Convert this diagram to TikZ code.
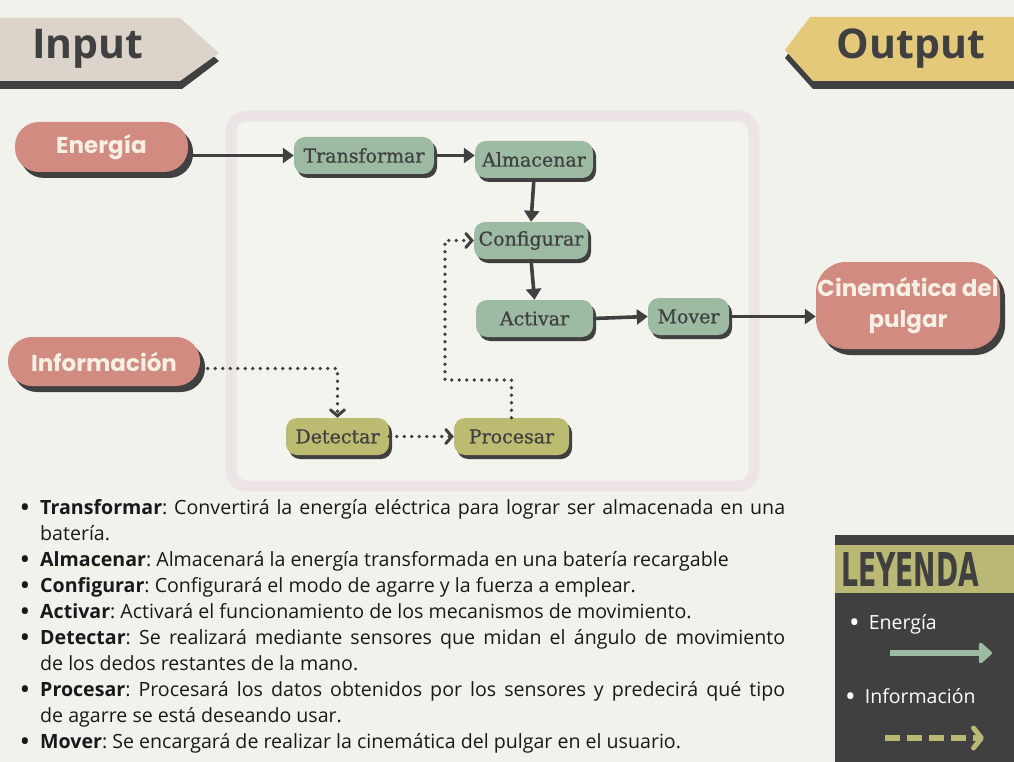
\documentclass[tikz,border=0pt]{standalone}
\usepackage{fontspec}
\setmainfont{Open Sans}
\newfontfamily\bannerfont{Open Sans}
\newfontfamily\pillfont{Poppins}
\newfontfamily\boxfont[FakeBold=0.7]{DejaVu Serif}
\newfontfamily\legfont{DejaVu Sans Condensed}
\usetikzlibrary{arrows.meta,shadows,calc}
\definecolor{bg}{RGB}{242,242,236}
\definecolor{dark}{RGB}{64,64,64}
\definecolor{inbanner}{RGB}{220,212,203}
\definecolor{outbanner}{RGB}{227,201,121}
\definecolor{pillred}{RGB}{209,139,128}
\definecolor{cream}{RGB}{248,240,228}
\definecolor{gnode}{RGB}{157,186,162}
\definecolor{onode}{RGB}{187,187,114}
\definecolor{frame}{RGB}{236,228,229}
\definecolor{legband}{RGB}{185,184,116}
\newcommand{\bigbul}{\raisebox{-0.32ex}{\scalebox{1.45}{\textbullet}}}
\tikzset{
  boxnode/.style={rounded corners=11pt, minimum height=37pt, inner sep=0pt,
    text=dark, font=\boxfont\fontsize{19}{22}\selectfont,
    drop shadow={shadow xshift=3pt,shadow yshift=-4pt,opacity=1,fill=dark}},
  gbox/.style={boxnode, fill=gnode},
  obox/.style={boxnode, fill=onode},
  pill/.style={rounded corners=24pt, fill=pillred, inner sep=0pt, text=cream,
    font=\pillfont\bfseries\fontsize{23}{31}\selectfont, align=center,
    drop shadow={shadow xshift=5pt,shadow yshift=-6pt,opacity=1,fill=dark}},
  solidarrow/.style={draw=dark, line width=3.6pt, -{Triangle[length=11pt,width=15pt]}},
  dotarrow/.style={draw=dark, line width=3.8pt, line cap=round, dash pattern=on 0pt off 7.5pt,
    -{Straight Barb[length=6pt,width=14pt,line width=3pt,line cap=round]}},
  legtext/.style={anchor=base west, text=white, font=\fontsize{19.5}{22}\selectfont, inner sep=0},
}
\begin{document}
\begin{tikzpicture}[x=1pt,y=-1pt]
\useasboundingbox[fill=bg] (0,0) rectangle (1014,762);

% banners
\fill[dark] (0,26) -- (180,26) -- (219,61) -- (182,89) -- (0,89) -- cycle;
\fill[inbanner] (0,18) -- (180,18) -- (219,53) -- (180,81) -- (0,81) -- cycle;
\node[text=dark, font=\bannerfont\bfseries\fontsize{41}{48}\selectfont, inner sep=0] (inp) at (88,49) {Input};
\fill[dark] (1014,25) -- (810,25) -- (785,58) -- (813,89) -- (1014,89) -- cycle;
\fill[outbanner] (1014,17) -- (810,17) -- (785,50) -- (813,81) -- (1014,81) -- cycle;
\node[text=dark, font=\bannerfont\bfseries\fontsize{41}{48}\selectfont, inner sep=0] (outp) at (911,49) {Output};

% frame
\draw[frame, line width=11pt, fill=bg!85!white, rounded corners=16pt] (231,116) rectangle (754,486);

% pills
\node[pill, minimum width=173pt, minimum height=50pt] (E) at (101.5,147) {Energía};
\node[pill, minimum width=192pt, minimum height=49pt] (I) at (104,361.5) {Información};
\node[pill, minimum width=184pt, minimum height=87pt, rounded corners=30pt] (K) at (908,305.5) {Cinemática del\\pulgar};

% boxes
\node[gbox, minimum width=140pt] (T) at (364,155.5) {Transformar};
\node[gbox, minimum width=118pt] (A) at (534,159.5) {Almacenar};
\node[gbox, minimum width=114pt] (C) at (531,240.5) {Configurar};
\node[gbox, minimum width=117pt] (Ac) at (534.5,318.5) {Activar};
\node[gbox, minimum width=81pt] (M) at (688.5,316.5) {Mover};
\node[obox, minimum width=103pt] (D) at (337.5,436.5) {Detectar};
\node[obox, minimum width=115pt] (P) at (511.5,436.5) {Procesar};

% solid connectors
\draw[solidarrow] (E.east |- T.west) -- (T.west);
\draw[solidarrow] (T.east) -- (T.east -| A.west);
\draw[solidarrow] (A.south) -- (C.north);
\draw[solidarrow] (C.south) -- (Ac.north);
\draw[solidarrow] (Ac.east) -- (M.west);
\draw[solidarrow] (M.east) -- (M.east -| K.west);

% dotted connectors
\draw[dotarrow] ([yshift=-7pt]I.east) -| (D.north);
\draw[dotarrow] (D.east) -- (P.west);
\coordinate (bend) at (445,380);
\draw[dotarrow] (P.north) |- (bend) |- (C.west);

% legend
\fill[dark] (835,535) rectangle (1014,762);
\fill[legband] (835,545) rectangle (1014,593);
\node[text=dark, inner sep=0] (ley) at (910,569) {\resizebox{138pt}{34pt}{\legfont\bfseries LEYENDA}};
\node[legtext] (le1) at (849,629) {\bigbul\hspace{9pt}Energía};
\node[legtext] (le2) at (845,703) {\bigbul\hspace{9pt}Información};
\coordinate (g1) at (890,653);
\coordinate (g2) at (992,653);
\draw[gnode, line width=6pt, -{Triangle[length=14pt,width=24pt,round]}] (g1) -- (g2);
\coordinate (o1) at (885,738);
\coordinate (o2) at (984,738);
\draw[legband, line width=6pt, dash pattern=on 15pt off 7pt, -{Straight Barb[length=8pt,width=20pt,line width=5pt,round]}] (o1) -- (o2);

% bullet list
\node[anchor=base west, inner sep=0, text=black!90] (list) at (0,514) {%
\begin{minipage}[t]{785pt}
\fontsize{19.6}{26}\selectfont\frenchspacing
\setlength{\leftmargini}{40pt}\setlength{\labelsep}{10pt}
\renewcommand{\labelitemi}{\bigbul}
\begin{itemize}
\setlength{\itemsep}{0pt}\setlength{\parsep}{0pt}\setlength{\parskip}{0pt}
\item \textbf{Transformar}: Convertirá la energía eléctrica para lograr ser almacenada en una\linebreak batería.
\item \textbf{Almacenar}: Almacenará la energía transformada en una batería recargable
\item \textbf{Configurar}: Configurará el modo de agarre y la fuerza a emplear.
\item \textbf{Activar}: Activará el funcionamiento de los mecanismos de movimiento.
\item \textbf{Detectar}: Se realizará mediante sensores que midan el ángulo de movimiento\linebreak de los dedos restantes de la mano.
\item \textbf{Procesar}: Procesará los datos obtenidos por los sensores y predecirá qué tipo\linebreak de agarre se está deseando usar.
\item \textbf{Mover}: Se encargará de realizar la cinemática del pulgar en el usuario.
\end{itemize}
\end{minipage}};
\end{tikzpicture}
\end{document}
